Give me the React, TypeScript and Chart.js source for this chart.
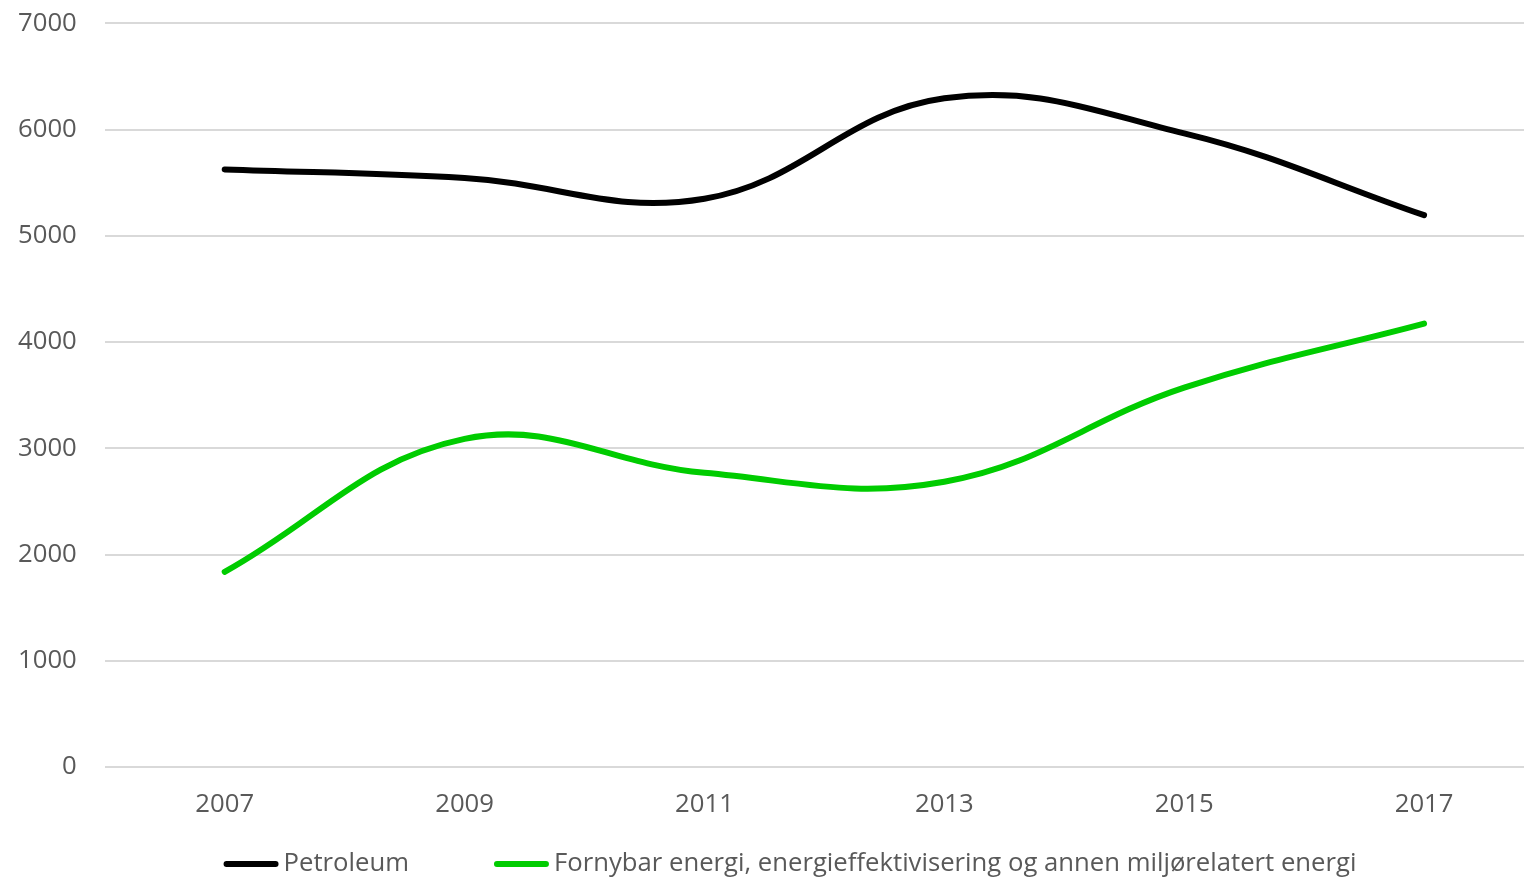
import React, { useEffect, useRef } from "react";
import { Chart, registerables } from "chart.js";

Chart.register(...registerables);

const years = ["2007", "2009", "2011", "2013", "2015", "2017"];
const petroleum = [5626, 5545, 5350, 6295, 5965, 5195];
const fornybar = [1838, 3090, 2770, 2686, 3572, 4175];
const yTicks = [0, 1000, 2000, 3000, 4000, 5000, 6000, 7000];

const FONT = "'Open Sans', sans-serif";
const FONT_SIZE = 25.7;
const SHIFT_X = -27;
const SHIFT_Y = -20;
const CANVAS_W = 1607;
const CANVAS_H = 905;
const LEGEND_Y = 884; // canvas-local centre line of the legend
const LEGEND_CX = 817; // canvas-local centre of the legend
const LINE_W = 6;

const legendPlugin = {
  id: "customLegend",
  afterDraw(chart: any) {
    const ctx = chart.ctx as CanvasRenderingContext2D;
    const lineW = 55;
    const gap = 5;
    const itemGap = 85;
    ctx.save();
    ctx.font = `${FONT_SIZE}px ${FONT}`;
    const items = chart.data.datasets.map((ds: any) => ({
      label: ds.label as string,
      color: ds.borderColor as string,
      w: lineW + gap + ctx.measureText(ds.label).width,
    }));
    const total =
      items.reduce((s: number, it: any) => s + it.w, 0) + itemGap * (items.length - 1);
    let x = LEGEND_CX - total / 2;
    ctx.textBaseline = "middle";
    ctx.textAlign = "left";
    for (const it of items) {
      ctx.strokeStyle = it.color;
      ctx.lineWidth = LINE_W;
      ctx.lineCap = "round";
      ctx.beginPath();
      ctx.moveTo(x + LINE_W / 2, LEGEND_Y);
      ctx.lineTo(x + lineW - LINE_W / 2, LEGEND_Y);
      ctx.stroke();
      ctx.fillStyle = "#595959";
      ctx.fillText(it.label, x + lineW + gap, LEGEND_Y);
      x += it.w + itemGap;
    }
    ctx.restore();
  },
};

export default function App() {
  const ref = useRef<HTMLCanvasElement | null>(null);
  useEffect(() => {
    document.body.style.overflow = "hidden";
    const canvas = ref.current!;
    const chart = new Chart(canvas, {
      type: "line",
      data: {
        labels: years,
        datasets: [
          {
            label: "Petroleum",
            data: petroleum,
            borderColor: "#000000",
            backgroundColor: "#000000",
            borderWidth: LINE_W,
            pointRadius: 0,
            tension: 0.4,
            borderCapStyle: "round",
          },
          {
            label: "Fornybar energi, energieffektivisering og annen miljørelatert energi",
            data: fornybar,
            borderColor: "#00cc00",
            backgroundColor: "#00cc00",
            borderWidth: LINE_W,
            pointRadius: 0,
            tension: 0.4,
            borderCapStyle: "round",
          },
        ],
      },
      options: {
        animation: false,
        responsive: false,
        layout: { padding: { left: 17, right: 36, top: 8, bottom: 43 } },
        plugins: {
          title: { display: false },
          tooltip: { enabled: false },
          legend: { display: false },
        },
        scales: {
          x: {
            offset: true,
            grid: { display: false, drawTicks: false },
            border: { display: false },
            ticks: {
              padding: 22,
              color: "#595959",
              font: { family: FONT, size: FONT_SIZE },
            },
          },
          y: {
            min: 0,
            max: 7000,
            afterBuildTicks: (axis: any) => {
              axis.ticks = yTicks.map((v) => ({ value: v }));
            },
            grid: { color: "#d9d9d9", lineWidth: 2, drawTicks: false },
            border: { display: false },
            ticks: {
              padding: 28,
              color: "#595959",
              font: { family: FONT, size: FONT_SIZE },
              callback: (v: any) => String(v),
            },
          },
        },
      },
      plugins: [legendPlugin],
    });
    return () => chart.destroy();
  }, []);
  return (
    <div
      style={{
        position: "absolute",
        left: SHIFT_X,
        top: SHIFT_Y,
        width: CANVAS_W,
        height: CANVAS_H,
      }}
    >
      <canvas ref={ref} width={CANVAS_W} height={CANVAS_H} />
    </div>
  );
}
